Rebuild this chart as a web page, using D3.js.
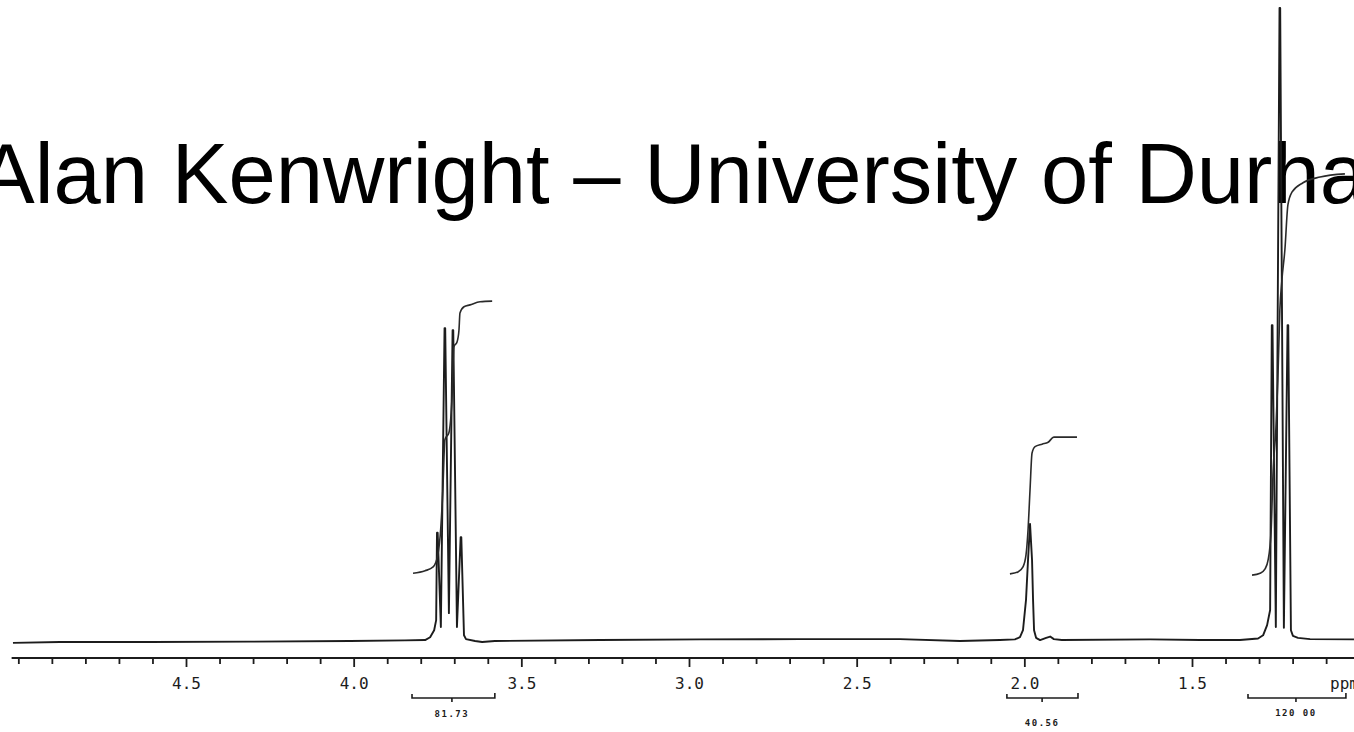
<!DOCTYPE html>
<html>
<head>
<meta charset="utf-8">
<script src="https://cdn.jsdelivr.net/npm/d3@7"></script>
<style>
  body { margin: 0; background: #fff; overflow: hidden; }
</style>
</head>
<body>
<div id="chart-area"></div>
<script>
// 1H NMR spectrum of ethanol (300 MHz scan)
var titleText = "Alan Kenwright \u2013 University of Durham";

// [ppm, intensity] along the trace, tallest line = 100
var spectrum = [
    [5.016, -0.3], [4.876, -0.15], [4.607, -0.15], [4.309, -0.1], [4.011, 0], [3.847, 0.1],
    [3.787, 0.15], [3.772, 0.6], [3.760, 1.7], [3.754, 3.3],
    [3.7515, 17.1], [3.7495, 17.1], [3.740, 2.2],
    [3.7290, 49.4], [3.7270, 49.4], [3.716, 4.4],
    [3.7050, 49.1], [3.7030, 49.1], [3.692, 2.2],
    [3.6810, 16.4], [3.6790, 16.4], [3.671, 0.9], [3.665, 0.3], [3.638, 0], [3.617, -0.15],
    [3.579, 0], [3.265, 0.15], [2.967, 0.25], [2.669, 0.3], [2.371, 0.3], [2.192, 0],
    [2.073, 0.15], [2.028, 0.25], [2.013, 0.6], [2.004, 1.7], [1.995, 6.5], [1.989, 12.8],
    [1.983, 18.5], [1.977, 12.8], [1.974, 6.5], [1.971, 1.7], [1.965, 0.5], [1.953, 0.15],
    [1.935, 0.5], [1.923, 0.7], [1.912, 0.3], [1.888, 0.15], [1.625, 0.25], [1.476, 0.15],
    [1.357, 0.15], [1.303, 0.4], [1.288, 0.9], [1.276, 2.5], [1.267, 4.9],
    [1.2620, 49.9], [1.2600, 49.9], [1.250, 2.2],
    [1.2390, 100], [1.2370, 100], [1.226, 2.1],
    [1.2150, 49.9], [1.2130, 49.9], [1.205, 1.7], [1.199, 0.8], [1.184, 0.5], [1.148, 0.3],
    [1.017, 0.25]
];

// integral traces [ppm, height]
var integralCH2 = [
    [3.823, 10.7], [3.787, 11.1], [3.763, 11.7], [3.749, 13.6], [3.740, 18.0], [3.734, 23.9],
    [3.728, 31.8], [3.716, 32.9], [3.707, 38.1], [3.701, 46.5], [3.692, 47.2], [3.686, 49.1],
    [3.683, 51.8], [3.671, 52.8], [3.653, 53.1], [3.623, 53.6], [3.587, 53.7]
];
var integralOH = [
    [2.043, 10.6], [2.019, 10.9], [2.004, 11.7], [1.995, 13.6], [1.989, 17.5], [1.983, 23.9],
    [1.977, 29.7], [1.968, 30.7], [1.947, 31.1], [1.929, 31.4], [1.912, 32.2], [1.894, 32.2],
    [1.843, 32.2]
];
var integralCH3 = [
    [1.321, 10.4], [1.297, 10.7], [1.282, 11.4], [1.273, 12.8], [1.264, 17.5], [1.258, 27.0],
    [1.250, 33.3], [1.244, 41.2], [1.238, 52.3], [1.232, 57.0], [1.223, 61.8], [1.214, 68.9],
    [1.202, 70.9], [1.169, 72.4], [1.118, 73.3], [1.044, 73.8]
];

// integration brackets: [from, to, centre] in ppm, and their values
var bracketRanges = [[3.826, 3.579, 3.707], [2.052, 1.840, 1.947], [1.333, 1.041, 1.190]];
var bracketValues = ["81.73", "40.56", "120 00"];
var bracketLabelY = [717, 726, 716];

var majorTicks = [4.5, 4.0, 3.5, 3.0, 2.5, 2.0, 1.5];
var majorLabels = ["4.5", "4.0", "3.5", "3.0", "2.5", "2.0", "1.5"];
var minorTicks = [5.0, 4.9, 4.8, 4.7, 4.6, 4.4, 4.3, 4.2, 4.1, 3.9, 3.8, 3.7, 3.6, 3.4, 3.3,
    3.2, 3.1, 2.9, 2.8, 2.7, 2.6, 2.4, 2.3, 2.2, 2.1, 1.9, 1.8, 1.7, 1.6, 1.4, 1.3, 1.2, 1.1];

var width = 1354, height = 732;
var ink = "#1c1c1c";

var svg = d3.select("#chart-area").append("svg")
    .attr("width", width)
    .attr("height", height);

var xScale = d3.scaleLinear()
    .domain([4.5, 1.5])
    .range([186, 1192]);
var yScale = d3.scaleLinear()
    .domain([0, 100])
    .range([641, 8]);

// title sits behind the trace, running off both edges like the slide it came from
svg.append("text")
    .attr("x", -22)
    .attr("y", 203)
    .style("font-family", "'Liberation Sans', Arial, sans-serif")
    .style("font-size", "85px")
    .attr("fill", "#000")
    .text(titleText);

var line = d3.line()
    .x(function (d) { return xScale(d[0]); })
    .y(function (d) { return yScale(d[1]); });

svg.append("path")
    .datum(spectrum)
    .attr("d", line)
    .attr("fill", "none")
    .attr("stroke", ink)
    .attr("stroke-width", 1.9)
    .attr("stroke-linejoin", "round");

var smooth = d3.line()
    .curve(d3.curveMonotoneX)
    .x(function (d) { return xScale(d[0]); })
    .y(function (d) { return yScale(d[1]); });

[integralCH2, integralOH, integralCH3].forEach(function (trace) {
    svg.append("path")
        .datum(trace)
        .attr("d", smooth)
        .attr("fill", "none")
        .attr("stroke", "#2a2a2a")
        .attr("stroke-width", 1.6);
});

// ppm axis: minor ticks first, then labelled major ticks
var axisY = 658;
svg.append("line")
    .attr("x1", xScale(5.02))
    .attr("x2", xScale(1.0))
    .attr("y1", axisY)
    .attr("y2", axisY)
    .attr("stroke", ink)
    .attr("stroke-width", 2);

svg.append("g")
    .attr("transform", "translate(0," + axisY + ")")
    .call(d3.axisBottom(xScale).tickValues(minorTicks).tickSize(6).tickSizeOuter(0).tickFormat(""))
    .call(function (g) {
        g.select(".domain").remove();
        g.selectAll("line").attr("stroke", ink).attr("stroke-width", 1.8);
    });

svg.append("g")
    .attr("transform", "translate(0," + axisY + ")")
    .call(d3.axisBottom(xScale).tickValues(majorTicks).tickSize(9).tickSizeOuter(0)
        .tickFormat(function (d, i) { return majorLabels[i]; }))
    .call(function (g) {
        g.select(".domain").remove();
        g.selectAll("line").attr("stroke", ink).attr("stroke-width", 1.8);
        g.selectAll("text")
            .attr("y", 20)
            .attr("dy", "0.71em")
            .attr("fill", ink)
            .style("font-family", "'DejaVu Sans Mono', monospace")
            .style("font-size", "16px");
    });

svg.append("text")
    .attr("x", 1330)
    .attr("y", 689)
    .attr("fill", ink)
    .style("font-family", "'DejaVu Sans Mono', monospace")
    .style("font-size", "16px")
    .text("ppm");

// integration brackets under the axis
var bracketY = 698;
bracketRanges.forEach(function (r, i) {
    var x0 = xScale(r[0]), x1 = xScale(r[1]), xc = xScale(r[2]);
    svg.append("path")
        .attr("d", "M" + x0 + "," + (bracketY - 4) + "L" + x0 + "," + bracketY +
            "L" + x1 + "," + bracketY + "L" + x1 + "," + (bracketY - 5) +
            "M" + xc + "," + bracketY + "L" + xc + "," + (bracketY + 4))
        .attr("fill", "none")
        .attr("stroke", ink)
        .attr("stroke-width", 1.6);
    svg.append("text")
        .attr("x", xc)
        .attr("y", bracketLabelY[i])
        .attr("text-anchor", "middle")
        .attr("fill", ink)
        .style("font-family", "'DejaVu Sans Mono', monospace")
        .style("font-size", "9px")
        .style("font-weight", "bold")
        .style("letter-spacing", "1.5px")
        .text(bracketValues[i]);
});
</script>
</body>
</html>
